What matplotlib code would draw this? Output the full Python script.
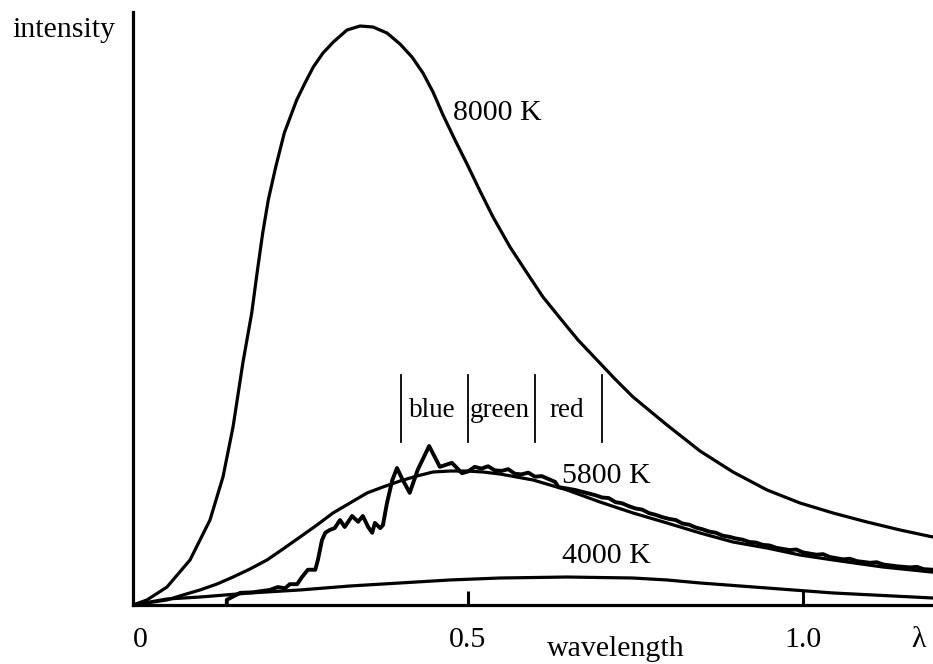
import matplotlib
matplotlib.use("Agg")
import matplotlib.pyplot as plt

plt.rcParams['font.family'] = ['Liberation Serif', 'DejaVu Serif']

# blackbody curves (wavelength, relative intensity)
lam_8000 = [0, 0.0209, 0.0507, 0.0851, 0.1149, 0.1343, 0.1493, 0.1642, 0.1772, 0.1858,
            0.1936, 0.2019, 0.2130, 0.2258, 0.2443, 0.2567, 0.2691, 0.2836, 0.2990, 0.3194,
            0.3388, 0.3582, 0.3791, 0.3985, 0.4164, 0.4328, 0.4478, 0.4627, 0.4806, 0.4985,
            0.5179, 0.5373, 0.5627, 0.5881, 0.6119, 0.6373, 0.6642, 0.6925, 0.7194, 0.7463,
            0.7970, 0.8463, 0.8955, 0.9463, 0.9955, 1.0448, 1.0955, 1.1448, 1.1940]
int_8000 = [0, 0.0087, 0.0311, 0.0779, 0.1471, 0.2215, 0.3080, 0.4204, 0.5052, 0.5796,
            0.6436, 0.7007, 0.7578, 0.8166, 0.8737, 0.9031, 0.9308, 0.9550, 0.9740, 0.9948,
            1.0017, 1.0000, 0.9896, 0.9706, 0.9481, 0.9204, 0.8875, 0.8478, 0.8045, 0.7630,
            0.7163, 0.6713, 0.6194, 0.5744, 0.5329, 0.4965, 0.4585, 0.4239, 0.3910, 0.3599,
            0.3114, 0.2664, 0.2301, 0.1990, 0.1765, 0.1592, 0.1436, 0.1298, 0.1176]

lam_5800 = [0, 0.0507, 0.0746, 0.1000, 0.1254, 0.1493, 0.1746, 0.2000, 0.2239, 0.2493,
            0.2746, 0.2985, 0.3239, 0.3493, 0.3731, 0.3985, 0.4239, 0.4478, 0.4731, 0.4985,
            0.5224, 0.5478, 0.5970, 0.6478, 0.6970, 0.7463, 0.7970, 0.8463, 0.8955, 0.9463,
            0.9955, 1.0448, 1.1194, 1.1940]
int_5800 = [0, 0.0087, 0.0173, 0.0260, 0.0363, 0.0484, 0.0623, 0.0779, 0.0969, 0.1176,
            0.1384, 0.1592, 0.1765, 0.1938, 0.2042, 0.2145, 0.2232, 0.2301, 0.2318, 0.2318,
            0.2301, 0.2266, 0.2163, 0.1990, 0.1782, 0.1592, 0.1419, 0.1246, 0.1090, 0.0986,
            0.0865, 0.0779, 0.0657, 0.0568]

lam_4000 = [0, 0.0507, 0.1000, 0.1746, 0.2493, 0.3239, 0.3985, 0.4731, 0.5478, 0.6478,
            0.7463, 0.7970, 0.8463, 0.9463, 1.0448, 1.1940]
int_4000 = [0, 0.0104, 0.0138, 0.0208, 0.0260, 0.0329, 0.0381, 0.0433, 0.0467, 0.0484,
            0.0467, 0.0433, 0.0381, 0.0294, 0.0208, 0.0121]

# measured solar spectrum
lam_sun = [0.140, 0.140, 0.160, 0.179, 0.204, 0.216, 0.227, 0.234, 0.245, 0.252, 0.261,
           0.272, 0.276, 0.282, 0.287, 0.294, 0.301, 0.309, 0.316, 0.327, 0.336, 0.343,
           0.351, 0.357, 0.361, 0.369, 0.373, 0.379, 0.387, 0.394, 0.401, 0.413, 0.425,
           0.442, 0.458, 0.476, 0.491, 0.500, 0.51, 0.52, 0.53, 0.54, 0.55, 0.56, 0.57,
           0.58, 0.59, 0.60, 0.61, 0.62, 0.63, 0.635, 0.65, 0.66, 0.67, 0.68, 0.69, 0.70,
           0.71, 0.72, 0.73, 0.74, 0.75, 0.76, 0.77, 0.78, 0.79, 0.80, 0.81, 0.82, 0.83,
           0.84, 0.85, 0.86, 0.87, 0.88, 0.89, 0.90, 0.91, 0.92, 0.93, 0.94, 0.95, 0.96,
           0.98, 0.99, 1.00, 1.02, 1.03, 1.04, 1.06, 1.07, 1.08, 1.10, 1.11, 1.12, 1.14,
           1.16, 1.17, 1.18, 1.194]
int_sun = [0.000, 0.009, 0.021, 0.022, 0.026, 0.031, 0.029, 0.036, 0.036, 0.048, 0.061,
           0.061, 0.078, 0.112, 0.125, 0.130, 0.133, 0.147, 0.135, 0.154, 0.144, 0.154,
           0.135, 0.125, 0.142, 0.133, 0.138, 0.176, 0.216, 0.237, 0.220, 0.194, 0.234,
           0.275, 0.239, 0.246, 0.228, 0.231, 0.239, 0.236, 0.240, 0.233, 0.232, 0.235, 0.227,
           0.226, 0.229, 0.222, 0.223, 0.218, 0.213, 0.204, 0.201, 0.199, 0.196, 0.193, 0.190, 0.186,
           0.185, 0.178, 0.176, 0.171, 0.167, 0.165, 0.159, 0.156, 0.152, 0.149, 0.147, 0.141, 0.139,
           0.134, 0.131, 0.127, 0.125, 0.120, 0.118, 0.115, 0.113, 0.109, 0.108, 0.104, 0.103, 0.099,
           0.095, 0.096, 0.091, 0.087, 0.088, 0.083, 0.079, 0.080, 0.076, 0.073, 0.074, 0.070, 0.067,
           0.065, 0.066, 0.062, 0.061]

band_edges = [0.4, 0.5, 0.6, 0.7]
band_names = ['blue', 'green', 'red']
band_centers = [0.447, 0.548, 0.648]

x_ticks = [0.5, 1.0]

fig = plt.figure(figsize=(9.33, 6.64), dpi=100)
ax = fig.add_axes([133 / 933, 59 / 664, 800 / 933, 593 / 664])
ax.set_xlim(0, 800 / 670)
ax.set_ylim(0, 593 / 578)

lw = 2.3
ax.plot(lam_8000, int_8000, color='black', lw=lw, solid_joinstyle='round')
ax.plot(lam_5800, int_5800, color='black', lw=lw, solid_joinstyle='round')
ax.plot(lam_4000, int_4000, color='black', lw=lw, solid_joinstyle='round')
ax.plot(lam_sun, int_sun, color='black', lw=2.8, solid_joinstyle='round')

# colour bands
for e in band_edges:
    ax.plot([e, e], [0.282, 0.398], color='black', lw=1.3)
for c, name in zip(band_centers, band_names):
    ax.text(c, 0.325, name, ha='center', va='baseline', fontsize=19.5)

ax.text(0.477, 0.839, '8000 K', fontsize=21.5, ha='left', va='baseline')
ax.text(0.64, 0.211, '5800 K', fontsize=21.5, ha='left', va='baseline')
ax.text(0.64, 0.0727, '4000 K', fontsize=21.5, ha='left', va='baseline')

for s in ['top', 'right']:
    ax.spines[s].set_visible(False)
ax.spines['left'].set_linewidth(2.3)
ax.spines['bottom'].set_linewidth(2.3)
ax.set_yticks([])
ax.set_xticks(x_ticks)
ax.set_xticklabels([])
ax.tick_params(axis='x', direction='in', length=10, width=2.2)

# axis labels
for xv, lab in [(0.011, '0'), (0.5, '0.5'), (1.0, '1.0')]:
    ax.annotate(lab, (xv, 0), xycoords=('data', 'axes fraction'), xytext=(0, -30),
                textcoords='offset points', ha='center', va='baseline', fontsize=21.5)
ax.annotate('λ', (1.173, 0), xycoords=('data', 'axes fraction'), xytext=(0, -30),
            textcoords='offset points', ha='center', va='baseline', fontsize=21.5)
ax.annotate('wavelength', (0.721, 0), xycoords=('data', 'axes fraction'), xytext=(0, -37),
            textcoords='offset points', ha='center', va='baseline', fontsize=21.5)
fig.text(12 / 933, 1 - 37 / 664, 'intensity', ha='left', va='baseline', fontsize=21.5)

fig.savefig('out.png', dpi=100)
